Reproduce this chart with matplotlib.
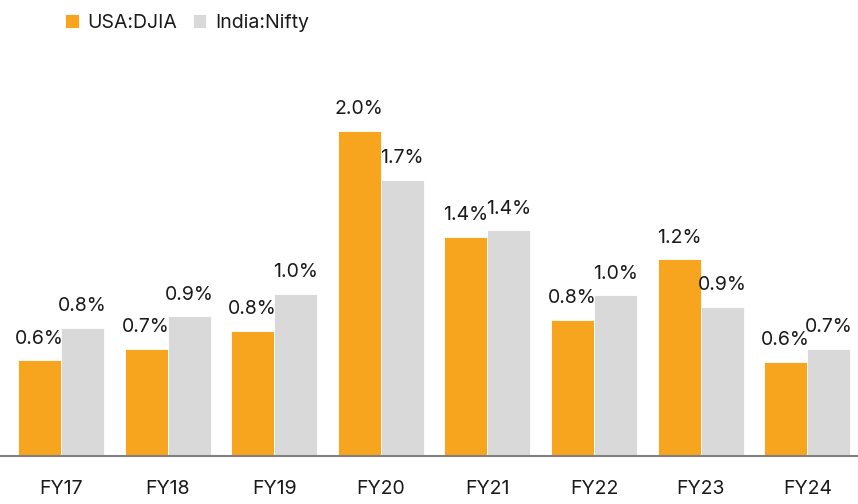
import matplotlib
matplotlib.use("Agg")
import matplotlib.pyplot as plt
import numpy as np

plt.rcParams['font.family'] = ['Inter', 'DejaVu Sans']

# data
years = ['FY17', 'FY18', 'FY19', 'FY20', 'FY21', 'FY22', 'FY23', 'FY24']
djia = [0.59, 0.66, 0.77, 2.00, 1.35, 0.84, 1.21, 0.58]
nifty = [0.79, 0.86, 1.00, 1.70, 1.39, 0.99, 0.92, 0.66]

orange = '#F7A51E'
grey = '#D9D9D9'
txt = '#1A1A1A'

fig = plt.figure(figsize=(8.58, 5.04), dpi=100)
ax = fig.add_axes([0, 0.0952, 1, 0.9048])

x = np.arange(len(years))
w = 0.403
b1 = ax.bar(x - w / 2, djia, w, color=orange, edgecolor='white', linewidth=0.6, label='USA:DJIA')
b2 = ax.bar(x + w / 2, nifty, w, color=grey, edgecolor='white', linewidth=0.6, label='India:Nifty')

for bars, vals in [(b1, djia), (b2, nifty)]:
    for r, v in zip(bars, vals):
        ax.annotate(f'{v:.1f}%', (r.get_x() + r.get_width() / 2, r.get_height()),
                    xytext=(0, 9), textcoords='offset points', ha='center', va='bottom',
                    fontsize=14, color=txt)

ax.set_xlim(-0.572, 7.476)
ax.set_ylim(0, 2.806)
ax.set_xticks(x)
ax.set_xticklabels(years, fontsize=14, color=txt)
ax.tick_params(axis='x', length=0, pad=17.5)
ax.set_yticks([])
for s in ['top', 'right', 'left']:
    ax.spines[s].set_visible(False)
ax.spines['bottom'].set_color('#808080')
ax.spines['bottom'].set_linewidth(1.5)

fig.legend(loc='upper left', bbox_to_anchor=(0.06, 1.0), ncol=2, frameon=False,
           fontsize=14, handlelength=0.7, handleheight=0.7, handletextpad=0.45,
           columnspacing=0.8, borderaxespad=0.3, labelcolor=txt)

fig.savefig('out.png', dpi=100)
